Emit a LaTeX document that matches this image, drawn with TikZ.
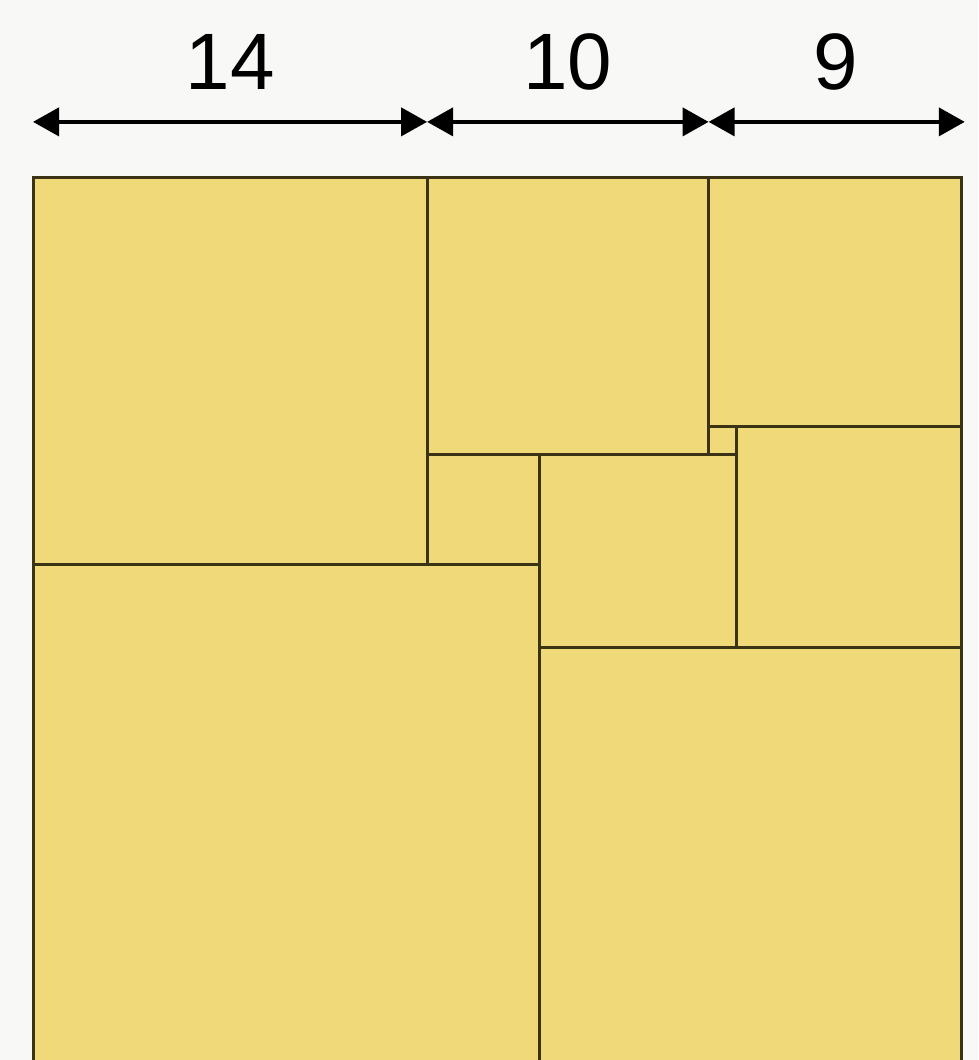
\documentclass[tikz,border=0pt]{standalone}
\usepackage{fontspec}
\setmainfont{Liberation Sans}
\usetikzlibrary{arrows.meta}
\definecolor{paper}{HTML}{F8F8F6}
\definecolor{tile}{HTML}{EFD978}
\definecolor{edge}{HTML}{3A3314}
\begin{document}
\begin{tikzpicture}[x=1pt,y=-1pt,
  sq/.style={fill=tile,draw=edge,line width=3pt,line join=miter},
  dim/.style={line width=4pt,black,{Triangle[length=26pt,width=28pt]}-{Triangle[length=26pt,width=28pt]}},
  lab/.style={font=\fontsize{80}{96}\selectfont,text=black,inner sep=0pt}]
\useasboundingbox (0,0) rectangle (978,1060);
\clip (0,0) rectangle (978,1060);
\fill[paper] (0,0) rectangle (978,1060);
\begin{scope}[shift={(33,177)},x=28.15pt,y=-27.7pt]
  % squares
  \filldraw[sq] (0,0) rectangle (14,14);
  \filldraw[sq] (14,0) rectangle (24,10);
  \filldraw[sq] (24,0) rectangle (33,9);
  \filldraw[sq] (24,9) rectangle (25,10);
  \filldraw[sq] (25,9) rectangle (33,17);
  \filldraw[sq] (14,10) rectangle (18,14);
  \filldraw[sq] (18,10) rectangle (25,17);
  \filldraw[sq] (0,14) rectangle (18,32);
  \filldraw[sq] (18,17) rectangle (33,32);
  % dimension arrows
  \coordinate (d0) at (0,-1.99);
  \coordinate (d1) at (14,-1.99);
  \coordinate (d2) at (24,-1.99);
  \coordinate (d3) at (33.1,-1.99);
  \draw[dim] (d0) -- (d1);
  \draw[dim] (d1) -- (d2);
  \draw[dim] (d2) -- (d3);
  \node[lab] (l14) at (7,-4.15) {14};
  \node[lab] (l10) at (19,-4.15) {10};
  \node[lab] (l9) at (28.5,-4.15) {9};
\end{scope}
\end{tikzpicture}
\end{document}
